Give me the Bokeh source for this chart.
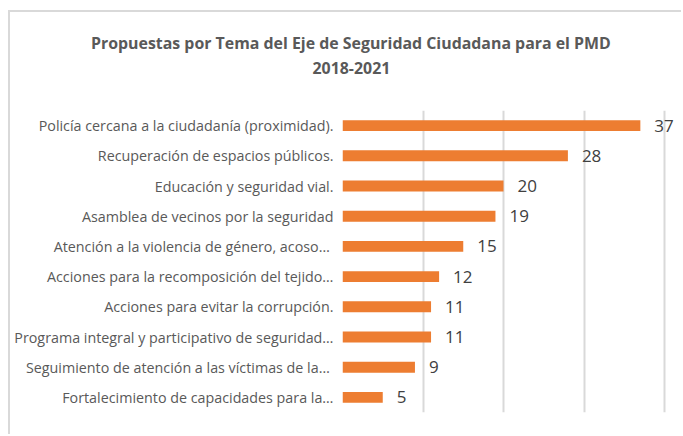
from bokeh.plotting import figure
from bokeh.models import ColumnDataSource, FactorRange, Range1d, FixedTicker, Title
from bokeh.core.properties import value
from bokeh.embed import file_html
from bokeh.resources import INLINE

title_line1 = "Propuestas por Tema del Eje de Seguridad Ciudadana  para el PMD"
title_line2 = "2018-2021"

categories = [
    "Policía cercana a la ciudadanía (proximidad).",
    "Recuperación de espacios públicos.",
    "Educación y seguridad vial.",
    "Asamblea de vecinos por la seguridad",
    "Atención a la  violencia de género, acoso…",
    "Acciones para la recomposición del tejido…",
    "Acciones para evitar la corrupción.",
    "Programa integral y participativo de seguridad…",
    "Seguimiento de atención  a las víctimas de la…",
    "Fortalecimiento de capacidades para la…",
]
values = [37, 28, 20, 19, 15, 12, 11, 11, 9, 5]
grid_ticks = [0, 10, 20, 30, 40]

labels = [str(v) for v in values]
source = ColumnDataSource(dict(cat=categories, val=values, lab=labels))

p = figure(
    width=673, height=424,
    y_range=FactorRange(*list(reversed(categories))),
    x_range=Range1d(0, 42.36),
    output_backend="svg", toolbar_location=None,
    min_border_left=332, min_border_top=98, min_border_bottom=24, min_border_right=0,
)
p.styles = {"border-top": "2px solid #d9d9d9", "border-left": "2px solid #d9d9d9",
            "margin-left": "8px", "margin-top": "10px"}
p.outline_line_color = None
p.background_fill_color = "white"
p.border_fill_color = "white"

p.hbar(y="cat", right="val", left=0, height=0.36, source=source,
       fill_color="#ED7D31", line_color=None)
p.text(x="val", y="cat", text="lab", source=source, x_offset=14,
       text_baseline="middle", text_align="left",
       text_font=value("Open Sans"), text_font_size="17px", text_color="#404040")

p.xaxis.visible = False
p.xaxis.ticker = FixedTicker(ticks=grid_ticks)
p.xgrid.ticker = FixedTicker(ticks=grid_ticks)
p.xgrid.grid_line_color = "#d9d9d9"
p.xgrid.grid_line_width = 2
p.ygrid.grid_line_color = None

ax = p.yaxis[0]
ax.axis_line_color = None
ax.major_tick_line_color = None
ax.minor_tick_line_color = None
ax.major_label_text_font = "Open Sans"
ax.major_label_text_font_size = "14.3px"
ax.major_label_text_color = "#595959"
ax.major_label_standoff = 3

title_style = dict(text_font="Open Sans", text_font_size="15.9px",
                   text_font_style="bold", text_color="#595959")
# spacer between the plot area and the two title lines
p.add_layout(Title(text=" ", align="left", standoff=10.5, **title_style), "above")
p.add_layout(Title(text=title_line2, align="left", offset=-30, standoff=4,
                   **title_style), "above")
p.add_layout(Title(text=title_line1, align="left", offset=-251.5, standoff=8,
                   **title_style), "above")

open("out.html", "w").write(file_html(p, INLINE))
